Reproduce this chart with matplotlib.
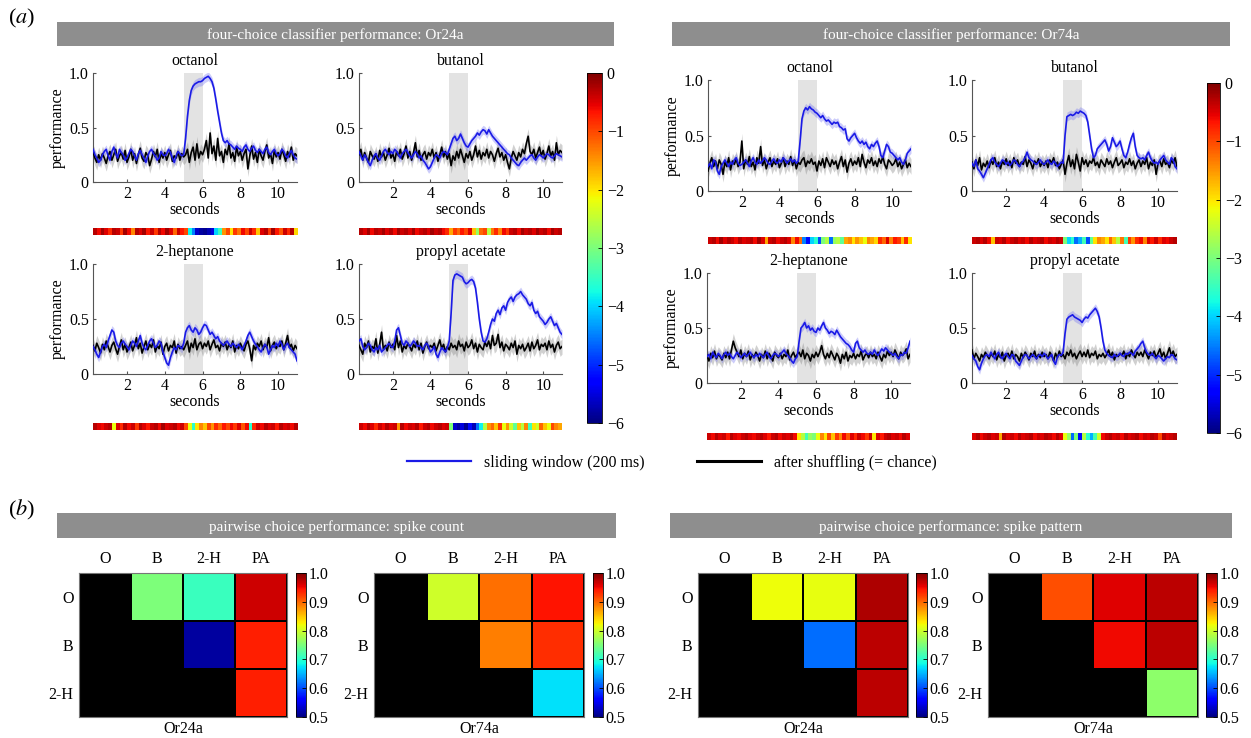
import numpy as np
import matplotlib
matplotlib.use('Agg')
import matplotlib.pyplot as plt
from matplotlib.lines import Line2D

plt.rcParams['font.family'] = ['Liberation Serif', 'DejaVu Serif']
plt.rcParams['mathtext.fontset'] = 'stix'
plt.rcParams['axes.unicode_minus'] = True

# ---------------- data ----------------
T_START, T_END = 0.2, 11.0          # seconds
STIM_ON, STIM_OFF = 5.0, 6.0        # odour stimulus window
ODORS = ['octanol', 'butanol', '2-heptanone', 'propyl acetate']
RECEPTORS = ['Or24a', 'Or74a']
PAIR_COLS = ['O', 'B', '2-H', 'PA']
PAIR_ROWS = ['O', 'B', '2-H']
X_TICKS = [2, 4, 6, 8, 10]
Y_TICKS = [0, 0.5, 1.0]
Y_TICKLABELS = ['0', '0.5', '1.0']
LOGP_TICKS = [0, -1, -2, -3, -4, -5, -6]
PAIR_TICKS = [0.5, 0.6, 0.7, 0.8, 0.9, 1.0]
SEM_WINDOW = 0.04    # half-width of shaded band, sliding window
SEM_SHUFFLE = 0.07   # half-width of shaded band, shuffled

# performance (percent), sampled every 0.1 s from 0.2 s to 11.0 s
or24a_octanol_window = [30,25,22,18,20,25,28,30,24,
    20,28,32,26,22,30,27,25,20,22, 26,30,28,24,20,26,29,25,22,18,
    24,28,30,26,24,20,22,28,25,24, 26,30,27,22,18,24,28,26,24,25,
    40,60,75,84,88,90,91,92,92,93, 95,96,97,95,92,86,76,65,55,45,
    38,36,38,35,34,32,30,33,31,30, 28,32,34,30,28,31,33,29,27,30,
    28,26,30,32,27,25,28,30,26,24, 26,30,28,24,22,26,29,25,22,21]
or24a_octanol_shuffle = [28,22,18,25,20,26,22,17,24,
    28,20,25,30,19,24,27,21,29,18, 23,30,20,26,17,25,31,22,19,27,
    24,15,21,28,23,30,18,26,22,27, 20,25,29,19,24,22,28,20,26,23,
    25,30,18,27,32,20,35,22,28,25, 30,38,22,45,26,33,20,40,24,28,
    18,30,25,35,22,27,19,32,24,28, 20,26,30,12,24,33,21,27,18,30,
    24,20,28,34,22,26,17,29,23,27, 21,30,25,19,28,23,32,20,26,24]
or24a_butanol_window = [28,24,20,25,22,18,15,20,24,
    26,22,20,24,28,30,27,25,28,26, 30,28,25,22,26,28,30,27,24,22,
    25,28,26,22,24,20,18,15,12,14, 18,22,25,24,22,26,28,27,25,30,
    35,40,42,38,40,44,40,36,33,32, 35,38,40,42,45,43,46,48,47,44,
    48,45,42,40,38,36,34,32,30,28, 26,25,22,20,18,16,15,18,20,22,
    20,22,24,25,22,20,23,25,24,22, 24,26,25,23,22,24,26,25,24,23]
or24a_butanol_shuffle = [25,30,20,27,22,18,28,24,21,
    26,19,29,23,27,20,25,31,22,26, 19,28,24,30,21,26,33,22,28,20,
    27,36,23,29,20,25,28,21,27,24, 30,22,27,19,25,32,23,28,21,26,
    15,24,20,28,22,30,24,18,26,22, 28,20,25,33,23,29,21,27,24,30,
    22,28,25,19,26,31,23,27,20,25, 18,12,22,28,24,20,27,23,30,26,
    35,42,28,25,30,22,27,32,24,29, 21,26,33,24,28,20,36,25,29,27]
or24a_heptanone_window = [25,22,18,15,20,25,27,24,30,
    35,40,38,30,26,24,28,30,27,25, 22,26,30,28,25,30,35,28,24,22,
    26,30,32,28,24,26,30,28,20,15, 10,8,15,20,24,22,26,25,23,28,
    38,42,44,40,38,42,40,36,38,42, 45,44,40,36,38,35,32,34,30,28,
    26,28,30,27,25,28,26,24,27,25, 22,26,30,35,38,34,30,27,25,22,
    20,24,27,25,18,22,26,24,28,25, 30,27,22,26,28,24,22,20,18,12]
or24a_heptanone_shuffle = [26,21,28,24,19,27,22,30,25,
    20,26,29,23,18,25,31,22,27,20, 24,29,21,26,33,23,28,19,25,30,
    22,27,24,31,20,26,23,29,18,25, 28,21,26,24,30,19,27,23,25,22,
    26,30,20,28,24,32,22,27,29,23, 28,25,30,22,27,31,24,26,21,28,
    25,29,22,27,24,30,20,26,23,28, 24,21,27,30,23,12,26,22,28,25,
    30,22,27,24,33,21,26,29,23,27, 25,30,22,28,35,24,27,21,26,23]
or24a_propyl_window = [30,32,25,22,24,28,26,22,20,
    24,22,26,20,22,24,26,28,25,24, 30,40,42,35,28,26,30,28,25,27,
    30,28,25,26,24,22,26,28,25,20, 22,25,18,15,20,24,22,20,24,30,
    55,85,90,91,90,89,88,84,82,83, 85,86,84,78,65,50,38,30,29,32,
    38,45,50,48,55,58,54,60,62,58, 65,68,70,66,70,72,73,75,72,70,
    68,64,62,65,58,55,57,52,50,48, 45,47,50,52,48,44,46,42,38,36]
or24a_propyl_shuffle = [26,22,18,28,24,30,20,25,23,
    32,19,27,38,22,26,21,29,24,27, 22,35,24,30,20,26,23,28,25,21,
    27,24,30,22,28,19,25,29,23,26, 24,28,21,26,31,23,27,20,25,22,
    28,24,26,22,30,25,27,21,29,24, 26,31,23,28,20,27,24,22,29,25,
    30,23,35,26,28,36,24,29,21,27, 25,22,28,24,30,18,26,23,27,21,
    24,28,21,29,23,26,31,22,27,25, 28,22,30,24,27,20,26,29,23,25]

or74a_octanol_window = [22,25,20,28,26,18,15,22,25,
    28,25,22,26,24,28,30,25,23,24, 26,28,25,22,27,30,26,24,28,25,
    27,30,28,25,24,27,29,26,25,28, 26,30,28,25,27,29,26,28,25,27,
    45,65,72,75,73,76,74,73,71,70, 68,66,68,65,63,64,62,60,62,61,
    62,58,57,55,56,47,45,48,50,52, 48,45,43,45,42,44,40,38,42,40,
    43,45,40,32,30,36,42,40,35,34, 32,30,28,30,26,24,28,34,36,38]
or74a_octanol_shuffle = [18,25,30,22,27,20,28,24,15,
    26,22,30,19,27,24,29,22,26,45, 20,28,24,31,22,26,19,30,25,40,
    23,28,20,26,30,22,27,24,29,21, 25,30,22,27,24,31,23,28,20,26,
    24,28,30,22,27,25,29,24,26,18, 27,23,29,21,30,26,22,28,24,27,
    20,26,31,22,28,17,25,29,23,27, 24,30,22,33,26,21,28,25,30,23,
    27,22,29,25,31,24,20,28,26,23, 25,29,22,26,20,24,28,21,25,22]
or74a_butanol_window = [25,22,28,20,18,15,12,16,20,
    24,28,30,26,24,22,25,28,27,24, 26,23,25,28,27,24,22,25,27,30,
    35,30,28,27,25,24,26,28,25,24, 26,28,25,24,27,25,22,24,26,25,
    50,67,68,69,68,69,71,70,72,71, 70,68,62,50,38,30,32,38,40,42,
    44,46,42,36,40,48,44,40,42,45, 38,32,30,35,42,48,52,40,32,30,
    29,30,28,32,35,30,27,25,26,24, 28,30,32,28,26,24,30,28,22,20]
or74a_butanol_shuffle = [26,20,28,23,30,19,25,22,27,
    21,28,24,30,22,26,20,27,24,29, 23,27,21,30,25,28,22,26,24,31,
    22,28,25,20,27,24,29,22,26,23, 27,21,28,25,30,23,26,20,24,28,
    15,25,32,22,28,20,33,26,18,30, 24,28,22,27,25,30,23,26,21,28,
    25,22,29,24,27,21,26,30,23,25, 28,21,26,24,29,23,27,20,25,28,
    22,27,24,30,20,26,23,28,15,25, 27,22,29,24,26,21,28,25,30,22]
or74a_heptanone_window = [24,26,22,28,25,23,27,25,22,
    26,28,25,27,24,22,25,28,26,23, 25,27,24,26,28,25,23,26,24,27,
    25,23,26,28,24,22,25,27,26,24, 26,28,30,27,25,23,20,18,22,24,
    38,50,52,55,50,52,48,50,47,46, 50,48,52,55,50,48,45,47,46,44,
    48,45,42,40,38,36,35,33,30,28, 36,38,32,30,28,30,27,26,28,26,
    30,27,25,28,31,29,32,30,28,27, 25,27,24,22,26,25,28,27,32,38]
or74a_heptanone_shuffle = [25,20,27,23,29,22,26,24,21,
    27,23,28,22,30,38,32,28,24,30, 22,27,24,29,21,26,23,28,25,20,
    26,23,29,22,27,24,20,28,25,23, 27,22,26,24,30,21,25,28,23,26,
    28,24,30,22,27,25,20,26,23,28, 24,28,34,26,22,27,23,29,25,21,
    27,24,18,26,22,28,20,25,23,27, 22,26,24,29,21,25,27,23,28,24,
    26,22,28,24,20,26,23,29,25,28, 24,30,26,22,28,25,27,31,22,26]
or74a_propyl_window = [25,22,20,15,12,18,22,25,26,
    24,28,25,22,26,28,24,22,25,27, 24,22,26,25,20,18,16,20,24,26,
    25,22,24,26,24,22,25,26,24,27, 25,22,24,26,20,17,24,26,25,28,
    45,58,60,61,62,60,59,58,57,55, 58,60,59,62,64,66,68,65,60,50,
    38,30,27,25,24,23,26,24,25,27, 25,24,27,26,28,27,25,29,31,33,
    36,38,32,28,26,25,27,24,22,25, 24,22,20,22,24,23,26,25,22,21]
or74a_propyl_shuffle = [30,22,27,24,20,26,23,28,25,
    22,27,24,29,21,26,23,28,20,25, 27,23,29,22,26,24,20,27,23,28,
    25,21,27,24,29,22,26,23,28,24, 26,22,28,25,20,27,23,29,24,26,
    22,28,25,30,24,27,22,26,29,24, 28,24,30,23,27,25,29,22,26,24,
    27,23,26,30,24,28,21,26,24,27, 25,29,22,27,24,30,26,23,28,25,
    28,24,30,26,22,28,25,29,23,27, 31,24,28,22,27,32,25,29,24,26]

# log10 p-value strips, 0.2 s bins from 0.2 s to 11.0 s
or24a_octanol_logp = [-0.3,-0.6,-0.2,-0.5,-0.8,-0.3,-0.4,-0.9,-0.2,-0.6,-1.4,-0.3,
    -0.5,-0.2,-0.7,-0.4,-0.9,-0.3,-0.6,-0.2,-0.5,-1.2,-0.4,-0.7,
    -1.0,-3.8,-4.5,-5.6,-5.8,-5.9,-5.7,-5.5,-4.0,-3.5,
    -1.5,-1.0,-2.0,-0.9,-1.3,-0.6,-1.0,-0.4,-0.8,-1.8,-0.5,-0.3,-0.9,-0.2,-0.7,-1.1,-0.4,-0.8,-0.3,-1.9]
or24a_butanol_logp = [-0.3,-0.5,-0.2,-0.6,-0.3,-0.4,-0.2,-0.5,-0.3,-0.6,-0.2,-0.4,
    -0.3,-0.5,-0.2,-0.6,-0.4,-0.3,-0.5,-0.2,-0.4,-0.3,-0.6,-0.8,
    -1.6,-0.9,-1.2,-0.7,-1.0,-0.5,-1.8,-2.8,-1.2,-1.0,
    -2.6,-1.3,-0.8,-1.4,-0.6,-0.9,-0.4,-0.3,-0.6,-0.2,-0.4,-0.3,-0.5,-0.2,-0.4,-0.3,-0.6,-0.2,-0.4,-0.3]
or24a_heptanone_logp = [-0.3,-0.5,-0.6,-0.4,-0.3,-2.2,-0.5,-0.8,-0.3,-0.6,-0.4,-0.9,
    -0.3,-0.5,-0.7,-0.4,-0.3,-0.6,-0.2,-0.5,-0.4,-0.3,-0.6,-0.4,
    -1.0,-2.2,-3.6,-2.0,-1.4,-1.8,-1.0,-1.5,-0.8,-1.2,
    -0.7,-1.0,-0.6,-0.9,-0.5,-1.1,-0.6,-3.6,-0.8,-0.4,-0.6,-0.3,-0.5,-0.4,-0.7,-0.3,-0.5,-0.4,-0.6,-0.3]
or24a_propyl_logp = [-0.4,-0.6,-0.3,-0.5,-0.8,-0.4,-0.6,-0.3,-0.5,-0.4,-1.5,-0.3,
    -0.6,-0.4,-0.5,-0.3,-0.7,-0.4,-0.3,-0.6,-0.4,-0.3,-0.5,-0.4,
    -3.0,-5.6,-5.8,-5.5,-5.9,-5.2,-5.7,-4.6,-3.8,-2.6,
    -1.5,-1.2,-1.8,-0.9,-2.2,-1.5,-2.4,-3.2,-1.8,-2.6,-1.4,-3.4,-2.0,-2.4,-1.2,-1.8,-2.2,-1.0,-1.4,-1.6]
or74a_octanol_logp = [-0.4,-0.3,-0.6,-0.2,-0.5,-0.3,-0.4,-0.6,-0.3,-0.5,-0.4,-0.3,
    -0.6,-0.2,-0.5,-1.6,-0.4,-0.3,-0.6,-0.4,-0.3,-0.5,-1.4,-0.6,
    -1.2,-4.5,-5.2,-4.0,-3.6,-4.8,-3.0,-2.6,-4.6,-2.8,
    -2.6,-3.2,-1.6,-1.4,-2.0,-1.5,-1.8,-2.2,-1.4,-1.6,-1.9,-0.8,-1.2,-0.5,-1.4,-0.7,-0.9,-1.8,-0.8,-2.0]
or74a_butanol_logp = [-0.4,-0.3,-0.5,-0.3,-0.6,-1.8,-0.4,-0.5,-0.3,-0.6,-0.4,-0.3,
    -0.5,-0.4,-0.6,-0.3,-0.5,-0.4,-0.3,-0.6,-0.4,-0.5,-0.3,-0.4,
    -3.0,-4.0,-3.6,-4.6,-4.2,-3.4,-4.8,-3.2,-2.0,-1.4,
    -1.6,-2.0,-1.2,-1.8,-2.6,-1.3,-3.4,-0.9,-1.5,-0.8,-0.6,-1.4,-0.5,-0.7,-0.4,-0.8,-0.5,-0.6,-0.4,-0.3]
or74a_heptanone_logp = [-0.4,-0.6,-0.3,-0.5,-0.4,-0.7,-0.3,-0.5,-0.6,-0.4,-0.3,-0.5,
    -0.6,-0.4,-0.3,-0.5,-0.7,-0.4,-0.3,-0.6,-0.4,-0.5,-0.3,-0.6,
    -2.0,-2.6,-3.4,-2.8,-3.0,-2.2,-1.4,-2.0,-1.0,-1.8,
    -0.9,-1.4,-0.6,-1.1,-0.5,-0.8,-0.4,-0.6,-0.9,-0.4,-2.0,-0.5,-0.7,-0.4,-0.3,-0.5,-0.4,-0.6,-0.3,-0.5]
or74a_propyl_logp = [-0.5,-0.3,-0.6,-0.4,-0.3,-0.5,-0.4,-1.6,-0.3,-0.5,-0.4,-0.6,
    -0.3,-0.5,-0.4,-0.3,-0.6,-0.4,-0.5,-0.3,-0.4,-0.6,-0.3,-0.5,
    -2.2,-2.8,-4.6,-3.0,-5.2,-2.6,-3.6,-4.2,-3.4,-2.4,
    -0.6,-0.4,-0.3,-0.5,-0.4,-0.6,-0.3,-0.5,-0.4,-0.3,-0.6,-0.4,-0.5,-0.3,-0.4,-1.0,-0.3,-0.5,-0.4,-0.3]

# pairwise performance, order: O-B, O-2H, O-PA, B-2H, B-PA, 2H-PA
count_or24a = [0.75, 0.71, 0.965, 0.515, 0.938, 0.938]
count_or74a = [0.80, 0.895, 0.945, 0.888, 0.93, 0.672]
pattern_or24a = [0.82, 0.815, 0.98, 0.617, 0.973, 0.973]
pattern_or74a = [0.913, 0.958, 0.973, 0.951, 0.973, 0.76]

# ---------------- figure ----------------
W, H = 1251, 738
fig = plt.figure(figsize=(W / 100, H / 100), dpi=100)

def box(x0, y0, x1, y1):
    return [x0 / W, 1 - y1 / H, (x1 - x0) / W, (y1 - y0) / H]

BLUE = '#1a1ae6'
BANNER = '#8e8e8e'
SPINE = '#555555'
FS = 11.5

def banner(x0, y0, x1, y1, text):
    a = fig.add_axes(box(x0, y0, x1, y1))
    a.set_facecolor(BANNER)
    a.set_xticks([]); a.set_yticks([])
    for s in a.spines.values():
        s.set_visible(False)
    a.text(0.5, 0.45, text, color='white', ha='center', va='center',
           fontsize=11, transform=a.transAxes)

banner(57, 22, 614, 46, 'four-choice classifier performance: Or24a')
banner(672, 22, 1230, 46, 'four-choice classifier performance: Or74a')
banner(57, 513, 616, 538, 'pairwise choice performance: spike count')
banner(670, 513, 1232, 538, 'pairwise choice performance: spike pattern')

fig.text(8 / W, 1 - 18 / H, r'($\mathit{a}$)', fontsize=16, va='center')
fig.text(8 / W, 1 - 510 / H, r'($\mathit{b}$)', fontsize=16, va='center')

windows = [or24a_octanol_window, or24a_butanol_window, or24a_heptanone_window, or24a_propyl_window,
           or74a_octanol_window, or74a_butanol_window, or74a_heptanone_window, or74a_propyl_window]
shuffles = [or24a_octanol_shuffle, or24a_butanol_shuffle, or24a_heptanone_shuffle, or24a_propyl_shuffle,
            or74a_octanol_shuffle, or74a_butanol_shuffle, or74a_heptanone_shuffle, or74a_propyl_shuffle]
strips = [or24a_octanol_logp, or24a_butanol_logp, or24a_heptanone_logp, or24a_propyl_logp,
          or74a_octanol_logp, or74a_butanol_logp, or74a_heptanone_logp, or74a_propyl_logp]

panel_boxes = [(93, 73, 297, 182), (359, 73, 562, 182), (93, 264, 297, 374), (359, 264, 562, 374),
               (708, 80, 911, 191), (972, 80, 1177, 191), (707, 273, 910, 383), (972, 273, 1177, 383)]
strip_y = [(228, 235), (228, 235), (423, 430), (423, 430),
           (237, 244), (237, 244), (433, 440), (433, 440)]

cmap = plt.get_cmap('jet')
strip_img = None
for i in range(8):
    x0, y0, x1, y1 = panel_boxes[i]
    ax = fig.add_axes(box(x0, y0, x1, y1))
    w = np.array(windows[i]) / 100.0
    s = np.array(shuffles[i]) / 100.0
    t = np.linspace(T_START, T_END, len(w))
    ts = np.linspace(T_START, T_END, len(s))
    ax.axvspan(STIM_ON, STIM_OFF, color='#e3e3e3', lw=0, zorder=0)
    ax.fill_between(ts, s - SEM_SHUFFLE, s + SEM_SHUFFLE, color='#7a7a7a', alpha=0.35, lw=0, zorder=1)
    ax.fill_between(t, w - SEM_WINDOW, w + SEM_WINDOW, color='#6f6ff2', alpha=0.35, lw=0, zorder=2)
    ax.plot(ts, s, color='black', lw=1.2, zorder=3)
    ax.plot(t, w, color=BLUE, lw=1.2, zorder=4)
    ax.set_xlim(T_START, T_END)
    ax.set_ylim(0, 1.0)
    ax.set_xticks(X_TICKS)
    ax.set_yticks(Y_TICKS)
    ax.set_yticklabels(Y_TICKLABELS)
    ax.tick_params(direction='in', length=2, labelsize=FS, pad=3, color=SPINE)
    for side in ('top', 'right'):
        ax.spines[side].set_visible(False)
    for side in ('left', 'bottom'):
        ax.spines[side].set_color(SPINE)
        ax.spines[side].set_linewidth(0.8)
    ax.set_title(ODORS[i % 4], fontsize=FS, pad=6)
    ax.set_xlabel('seconds', fontsize=FS, labelpad=0)
    if i % 2 == 0:
        ax.set_ylabel('performance', fontsize=FS, labelpad=2)
    # p-value strip
    sy0, sy1 = strip_y[i]
    sa = fig.add_axes(box(x0, sy0, x1, sy1))
    vals = np.array(strips[i])[None, :]
    strip_img = sa.imshow(vals, cmap=cmap, vmin=-6, vmax=0, aspect='auto',
                          extent=[T_START, T_END, 0, 1], interpolation='nearest')
    sa.set_axis_off()

for (cx0, cy0, cx1, cy1) in [(587, 73, 602, 423), (1207, 83, 1220, 433)]:
    cax = fig.add_axes(box(cx0, cy0, cx1, cy1))
    cb = fig.colorbar(strip_img, cax=cax, ticks=LOGP_TICKS)
    cb.ax.set_yticklabels(['0'] + ['\u2212%d' % abs(v) for v in LOGP_TICKS[1:]])
    cb.ax.tick_params(labelsize=FS, direction='in', length=3, width=0.6)
    cb.outline.set_linewidth(0.6)

# legend
handles = [Line2D([], [], color=BLUE, lw=1.6), Line2D([], [], color='black', lw=2.2)]
fig.legend(handles, ['sliding window (200 ms)', 'after shuffling (= chance)'],
           loc='center', bbox_to_anchor=(672 / W, 1 - 463 / H), ncol=2, frameon=False,
           fontsize=FS, handlelength=4.0, columnspacing=3.3, handletextpad=0.8)

# pairwise heat maps
pair_sets = [count_or24a, count_or74a, pattern_or24a, pattern_or74a]
pair_names = ['Or24a', 'Or74a', 'Or24a', 'Or74a']
hm_x = [(79, 287), (374, 584), (698, 908), (988, 1198)]
cb_x = [(296, 306), (593, 603), (916, 927), (1206, 1217)]
HY0, HY1 = 573, 717
pair_cmap = plt.get_cmap('jet').copy()
pair_cmap.set_bad('black')
upper = [(0, 1), (0, 2), (0, 3), (1, 2), (1, 3), (2, 3)]
for k in range(4):
    M = np.full((3, 4), np.nan)
    for (r, c), v in zip(upper, pair_sets[k]):
        M[r, c] = v
    Mm = np.ma.masked_invalid(M)
    ax = fig.add_axes(box(hm_x[k][0], HY0, hm_x[k][1], HY1))
    ax.set_facecolor('black')
    mesh = ax.pcolormesh(np.arange(5), np.arange(4), Mm, cmap=pair_cmap, vmin=0.5, vmax=1.0,
                         edgecolors='black', linewidth=1.3)
    ax.set_xlim(0, 4); ax.set_ylim(3, 0)
    ax.xaxis.tick_top()
    ax.set_xticks(np.arange(4) + 0.5)
    ax.set_xticklabels(PAIR_COLS)
    ax.set_yticks(np.arange(3) + 0.5)
    ax.set_yticklabels(PAIR_ROWS)
    ax.tick_params(length=0, labelsize=FS, pad=4)
    for s in ax.spines.values():
        s.set_color('#777777'); s.set_linewidth(0.8)
    ax.set_xlabel(pair_names[k], fontsize=FS, labelpad=3)
    cax = fig.add_axes(box(cb_x[k][0], HY0, cb_x[k][1], HY1))
    cb = fig.colorbar(mesh, cax=cax, ticks=PAIR_TICKS)
    cb.ax.set_yticklabels(['%.1f' % v for v in PAIR_TICKS])
    cb.ax.tick_params(labelsize=FS, direction='in', length=3, width=0.6, pad=2)
    cb.outline.set_linewidth(0.6)

fig.savefig('out.png', dpi=100)
